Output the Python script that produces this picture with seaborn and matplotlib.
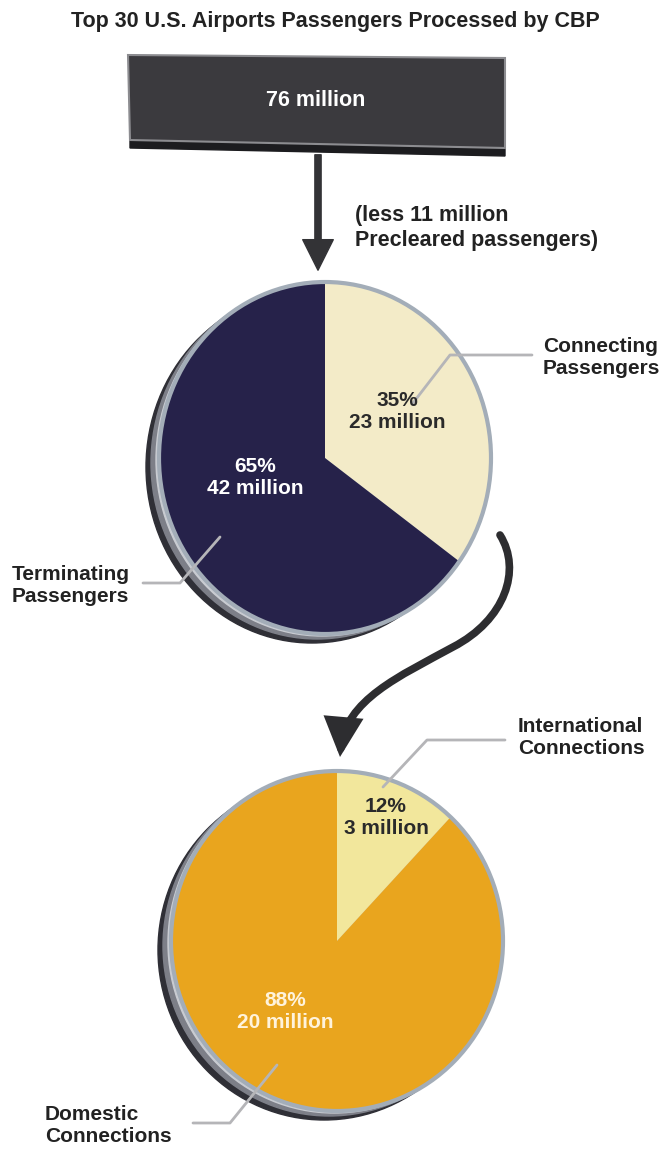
import numpy as np
import matplotlib
matplotlib.use("Agg")
import matplotlib.pyplot as plt
import seaborn as sns
from matplotlib.patches import Ellipse, Polygon, FancyArrowPatch
from matplotlib.path import Path
from matplotlib.transforms import Affine2D

# ---------------- data ----------------
title = "Top 30 U.S. Airports Passengers Processed by CBP"
total_label = "76 million"
precleared_note = "(less 11 million\nPrecleared passengers)"

pie1_categories = ["Connecting\nPassengers", "Terminating\nPassengers"]
pie1_shares = [35, 65]
pie1_millions = [23, 42]
pie1_colors = ["#f3ebc8", "#26224a"]
pie1_text_colors = ["#2a2a2a", "#ffffff"]

pie2_categories = ["International\nConnections", "Domestic\nConnections"]
pie2_shares = [12, 88]
pie2_millions = [3, 20]
pie2_colors = ["#f2e79c", "#e9a51e"]
pie2_text_colors = ["#2a2a2a", "#fff3dc"]

# ---------------- figure ----------------
sns.set_theme(style="white")
FONT = ["Liberation Sans Narrow", "Liberation Sans", "DejaVu Sans"]
plt.rcParams["font.family"] = FONT

W, H = 668, 1152
fig = plt.figure(figsize=(W / 100, H / 100), dpi=100)
ax = fig.add_axes([0, 0, 1, 1])
ax.set_facecolor("white")


def draw_pie(cx, cy, rx, ry, shares, colors):
    # 3-D rim / shadow
    ax.add_patch(Ellipse((cx - 13, cy + 9), 2 * rx, 2 * ry, color="#2f2f36", zorder=1))
    ax.add_patch(Ellipse((cx - 8, cy + 5), 2 * rx, 2 * ry, color="#7d7f88", zorder=1.2))
    ax.add_patch(Ellipse((cx - 3, cy + 2), 2 * rx, 2 * ry, color="#c9ccd2", zorder=1.4))
    wedges, _ = ax.pie(shares, colors=colors, startangle=90, counterclock=False,
                       radius=1, center=(0, 0), wedgeprops=dict(linewidth=0))
    tr = Affine2D().scale(rx, -ry).translate(cx, cy) + ax.transData
    for w in wedges:
        w.set_transform(tr)
        w.set_zorder(2)
    ax.add_patch(Ellipse((cx, cy), 2 * rx, 2 * ry, fill=False,
                         edgecolor="#a3adb8", lw=3, zorder=3))


# pies
draw_pie(325, 458, 166, 176, pie1_shares, pie1_colors)
draw_pie(337, 941, 166, 170, pie2_shares, pie2_colors)

ax.set_xlim(0, W)
ax.set_ylim(H, 0)
ax.set_aspect("auto")
ax.axis("off")

# title
ax.text(335, 21, title, ha="center", va="center", fontsize=15.5,
        fontweight="bold", color="#222222", zorder=5)

# top box (3-D slab)
ax.add_patch(Polygon([(130, 140), (505, 148), (505, 156), (130, 148)],
                     closed=True, color="#1c1c1f", zorder=2))
ax.add_patch(Polygon([(128, 55), (505, 58), (505, 148), (130, 140)],
                     closed=True, facecolor="#3b3a3e", edgecolor="#8c8c90",
                     lw=1.5, zorder=3))
ax.text(316, 100, total_label, ha="center", va="center", fontsize=15.5,
        fontweight="bold", color="white", zorder=5)

# straight arrow
ax.add_patch(FancyArrowPatch((318, 152), (318, 273),
                             arrowstyle="Simple,tail_width=4.5,head_width=22,head_length=22",
                             mutation_scale=1, color="#333336", zorder=4))
ax.text(355, 228, precleared_note, ha="left", va="center", fontsize=15.5,
        fontweight="bold", color="#222222", linespacing=1.2, zorder=5)

# curved arrow between pies
verts = [(500, 535), (522, 570), (505, 620), (453, 647),
         (400, 676), (345, 700), (340, 757)]
codes = [Path.MOVETO, Path.CURVE4, Path.CURVE4, Path.CURVE4,
         Path.CURVE4, Path.CURVE4, Path.CURVE4]
ax.add_patch(FancyArrowPatch(path=Path(verts, codes),
                             arrowstyle="-|>,head_length=1.0,head_width=0.5",
                             mutation_scale=20, lw=5.5, color="#2d2d30",
                             capstyle="round", joinstyle="miter", zorder=4))

# leader lines
lead = dict(color="#b5b5b8", lw=2, zorder=4, solid_capstyle="round")
ax.plot([413, 450, 532], [403, 355, 355], **lead)
ax.plot([220, 180, 143], [537, 583, 583], **lead)
ax.plot([383, 427, 505], [787, 740, 740], **lead)
ax.plot([277, 230, 193], [1065, 1123, 1123], **lead)

# category labels
cat_kw = dict(fontsize=15, fontweight="bold", color="#222222", linespacing=1.2,
              va="center", ha="left", zorder=5)
ax.text(543, 357, pie1_categories[0], **cat_kw)
ax.text(12, 585, pie1_categories[1], **cat_kw)
ax.text(518, 738, pie2_categories[0], **cat_kw)
ax.text(45, 1126, pie2_categories[1], **cat_kw)

# value labels inside the pies
val_kw = dict(fontsize=15, fontweight="bold", ha="center", va="center",
              linespacing=1.2, zorder=5)
pie1_pos = [(397, 411), (255, 478)]
for s, m, c, (x, y) in zip(pie1_shares, pie1_millions, pie1_text_colors, pie1_pos):
    ax.text(x, y, f"{s}%\n{m} million", color=c, **val_kw)
pie2_pos = [(386, 818), (285, 1012)]
for s, m, c, (x, y) in zip(pie2_shares, pie2_millions, pie2_text_colors, pie2_pos):
    ax.text(x, y, f"{s}%\n{m} million", color=c, **val_kw)

fig.savefig("out.png", dpi=100, facecolor="white")
